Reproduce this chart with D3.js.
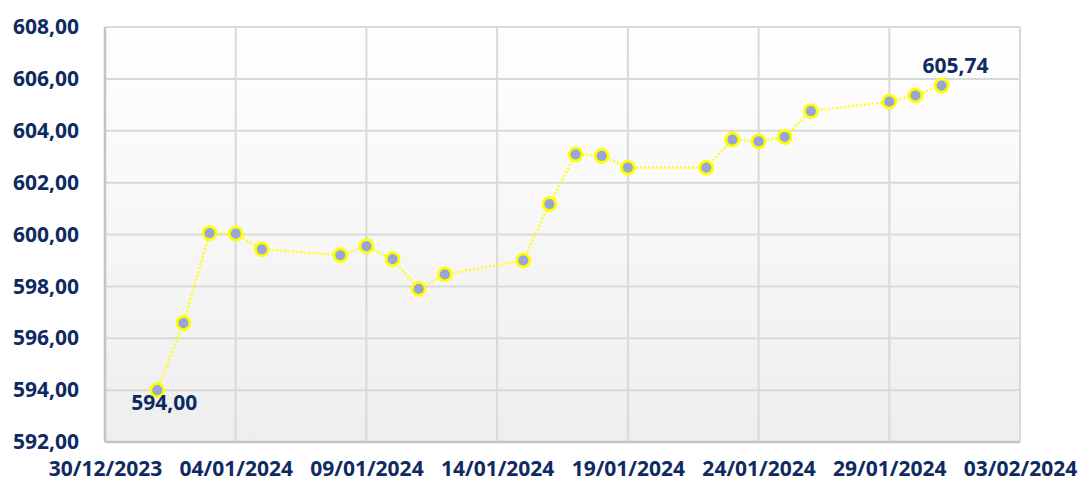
<!DOCTYPE html>
<meta charset="utf-8">
<head>
<style>
body { margin: 0; background: #fff; }
.axis text { font-family: "Open Sans", "Liberation Sans", Arial, sans-serif; font-weight: bold; fill: #0f2a62; }
.axis .domain { display: none; }
.grid line { stroke: #d9d9d9; stroke-width: 2; }
.lbl { font-family: "Open Sans", "Liberation Sans", Arial, sans-serif; font-weight: bold; font-size: 21px; fill: #0f2a62; }
</style>
<script src="https://cdnjs.cloudflare.com/ajax/libs/d3/7.8.5/d3.min.js"></script>
</head>
<body>
<div id="chart"></div>
<script>
// dates (dd/mm/yyyy) and values
var dates = ["01/01/2024","02/01/2024","03/01/2024","04/01/2024","05/01/2024",
  "08/01/2024","09/01/2024","10/01/2024","11/01/2024","12/01/2024",
  "15/01/2024","16/01/2024","17/01/2024","18/01/2024","19/01/2024",
  "22/01/2024","23/01/2024","24/01/2024","25/01/2024","26/01/2024",
  "29/01/2024","30/01/2024","31/01/2024"]
var values = [594.00, 596.58, 600.05, 600.03, 599.43,
  599.20, 599.55, 599.05, 597.90, 598.46,
  599.00, 601.17, 603.09, 603.03, 602.58,
  602.58, 603.66, 603.59, 603.76, 604.76,
  605.12, 605.36, 605.74]
var yTicks = [592, 594, 596, 598, 600, 602, 604, 606, 608]
var xStart = "30/12/2023", xEnd = "03/02/2024"
// which points carry a value label
var labelled = [0, 22]

var parse = d3.utcParse("%d/%m/%Y")
var fmtDate = d3.utcFormat("%d/%m/%Y")
var fmtNum = d3.formatLocale({decimal: ",", thousands: ".", grouping: [3], currency: ["", ""]}).format(".2f")

var data = dates.map(function(d, i){ return {date: parse(d), value: values[i]} })

var margin = {top: 27, right: 63, bottom: 39, left: 105},
    width = 1083 - margin.left - margin.right,
    height = 481 - margin.top - margin.bottom

var svg = d3.select("#chart").append("svg")
    .attr("width", 1083).attr("height", 481)

var defs = svg.append("defs")
var grad = defs.append("linearGradient").attr("id", "bg")
    .attr("x1", 0).attr("y1", 0).attr("x2", 0).attr("y2", 1)
grad.append("stop").attr("offset", "0%").attr("stop-color", "#ffffff")
grad.append("stop").attr("offset", "100%").attr("stop-color", "#eeeeee")

var g = svg.append("g").attr("transform", "translate(" + margin.left + "," + margin.top + ")")

var x = d3.scaleUtc().domain([parse(xStart), parse(xEnd)]).range([0, width])
var y = d3.scaleLinear().domain([592, 608]).range([height, 0])

g.append("rect").attr("width", width).attr("height", height).attr("fill", "url(#bg)")

var xTicks = d3.utcDay.range(parse(xStart), d3.utcDay.offset(parse(xEnd), 1), 5)

// grid
g.append("g").attr("class", "grid")
  .selectAll("line.h").data(yTicks).enter().append("line")
    .attr("x1", 0).attr("x2", width)
    .attr("y1", function(d){ return y(d) }).attr("y2", function(d){ return y(d) })
g.select(".grid")
  .selectAll("line.v").data(xTicks).enter().append("line")
    .attr("y1", 0).attr("y2", height)
    .attr("x1", function(d){ return x(d) }).attr("x2", function(d){ return x(d) })

// axis frame lines (left and bottom a bit darker)
g.append("line").attr("x1", 0).attr("x2", 0).attr("y1", 0).attr("y2", height)
  .attr("stroke", "#c4c4c4").attr("stroke-width", 2.5)
g.append("line").attr("x1", 0).attr("x2", width).attr("y1", height).attr("y2", height)
  .attr("stroke", "#c4c4c4").attr("stroke-width", 2.5)

// axes
var yAxis = g.append("g").attr("class", "axis")
  .attr("transform", "translate(-23,0)")
  .call(d3.axisLeft(y).tickValues(yTicks).tickFormat(fmtNum).tickSize(0))
yAxis.selectAll("text").style("font-size", "21px")

var xAxis = g.append("g").attr("class", "axis")
  .attr("transform", "translate(0," + height + ")")
  .call(d3.axisBottom(x).tickValues(xTicks).tickFormat(fmtDate).tickSize(0).tickPadding(19))
xAxis.selectAll("text").style("font-size", "21px")

// line
var line = d3.line().x(function(d){ return x(d.date) }).y(function(d){ return y(d.value) })
g.append("path").datum(data)
  .attr("fill", "none").attr("stroke", "#ffff00").attr("stroke-width", 2.2)
  .attr("stroke-dasharray", "2,2")
  .attr("d", line)

// points
g.selectAll("circle.pt").data(data).enter().append("circle")
  .attr("class", "pt")
  .attr("cx", function(d){ return x(d.date) })
  .attr("cy", function(d){ return y(d.value) })
  .attr("r", 6.5)
  .attr("fill", "#97a6d6")
  .attr("stroke", "#ffff00").attr("stroke-width", 2.8)

// value labels
var offs = [[7, 20], [14, -13]]
labelled.forEach(function(i, k){
  var d = data[i]
  g.append("text").attr("class", "lbl")
    .attr("text-anchor", "middle")
    .attr("x", x(d.date) + offs[k][0])
    .attr("y", y(d.value) + offs[k][1])
    .text(fmtNum(d.value))
})
</script>
</body>
</html>
